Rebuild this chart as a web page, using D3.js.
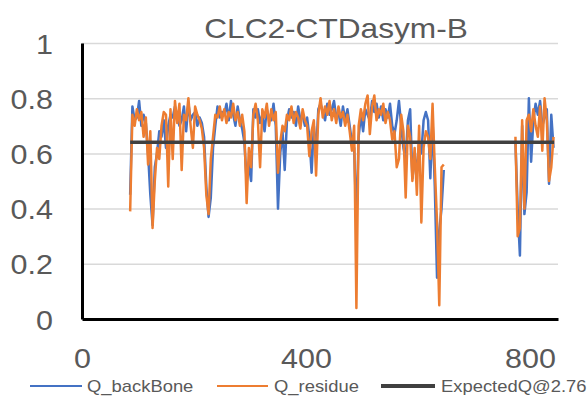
<!DOCTYPE html>
<html>
<head>
<meta charset="utf-8">
<script src="https://cdn.jsdelivr.net/npm/d3@7"></script>
<style>
  html, body { margin: 0; padding: 0; background: #fff; }
  svg { display: block; font-family: "Liberation Sans", Arial, sans-serif; }
</style>
</head>
<body>
<svg id="chart" width="588" height="397"></svg>
<script>
// ---------------- data ----------------
const title = "CLC2-CTDasym-B";
const xTicks = [0, 400, 800];
const yTicks = [0, 0.2, 0.4, 0.6, 0.8, 1];
const seriesNames = ["Q_backBone", "Q_residue", "ExpectedQ@2.76"];

// residue numbers (700 with null values marks the gap in the data)
const residues = [
  86, 90, 94, 98, 102, 106, 110, 114, 118, 122, 126, 130, 134, 138, 142, 146, 150, 154, 158, 162,
  166, 170, 174, 178, 182, 186, 190, 194, 198, 202, 206, 210, 214, 218, 222, 226, 230, 234, 238, 242,
  246, 250, 254, 258, 262, 266, 270, 274, 278, 282, 286, 290, 294, 298, 302, 306, 310, 314, 318, 322,
  326, 330, 334, 338, 342, 346, 350, 354, 358, 362, 366, 370, 374, 378, 382, 386, 390, 394, 398, 402,
  406, 410, 414, 418, 422, 426, 430, 434, 438, 442, 446, 450, 454, 458, 462, 466, 470, 474, 478, 482,
  486, 490, 494, 498, 502, 506, 510, 514, 518, 522, 526, 530, 534, 538, 542, 546, 550, 554, 558, 562,
  566, 570, 574, 578, 582, 586, 590, 594, 598, 602, 606, 610, 614, 618, 622, 626, 630, 634, 638, 642,
  646, 700,
  774, 778, 782, 786, 790, 794, 798, 802, 806, 810, 814, 818, 822, 826, 830, 834, 838, 842
];

const qBackbone = [
  0.45, 0.77, 0.72, 0.73, 0.79, 0.70, 0.74, 0.71, 0.60, 0.45, 0.34, 0.55, 0.60, 0.68, 0.66, 0.72, 0.62, 0.70, 0.74, 0.73,
  0.77, 0.74, 0.70, 0.72, 0.77, 0.68, 0.78, 0.72, 0.74, 0.75, 0.70, 0.73, 0.71, 0.66, 0.48, 0.37, 0.44, 0.62, 0.70, 0.77,
  0.73, 0.75, 0.74, 0.78, 0.72, 0.79, 0.74, 0.70, 0.77, 0.72, 0.69, 0.64, 0.50, 0.56, 0.50, 0.76, 0.73, 0.76, 0.71, 0.74,
  0.68, 0.76, 0.73, 0.72, 0.78, 0.70, 0.40, 0.60, 0.68, 0.54, 0.72, 0.76, 0.73, 0.75, 0.70, 0.77, 0.72, 0.74, 0.70, 0.73,
  0.66, 0.53, 0.70, 0.60, 0.76, 0.78, 0.75, 0.72, 0.78, 0.74, 0.76, 0.79, 0.73, 0.75, 0.70, 0.77, 0.72, 0.76, 0.70, 0.64,
  0.62, 0.34, 0.66, 0.74, 0.68, 0.76, 0.74, 0.72, 0.79, 0.75, 0.78, 0.73, 0.77, 0.72, 0.76, 0.73, 0.78, 0.70, 0.67, 0.72,
  0.79, 0.70, 0.62, 0.58, 0.72, 0.76, 0.51, 0.58, 0.55, 0.64, 0.60, 0.72, 0.75, 0.72, 0.51, 0.72, 0.48, 0.15, 0.32, 0.40,
  0.54, null,
  0.64, 0.40, 0.23, 0.70, 0.38, 0.46, 0.80, 0.57, 0.72, 0.78, 0.74, 0.79, 0.70, 0.73, 0.76, 0.49, 0.74, 0.62
];

const qResidue = [
  0.39, 0.74, 0.70, 0.76, 0.72, 0.75, 0.66, 0.73, 0.56, 0.68, 0.33, 0.50, 0.62, 0.58, 0.70, 0.75, 0.74, 0.48, 0.76, 0.58,
  0.79, 0.71, 0.78, 0.54, 0.74, 0.72, 0.80, 0.70, 0.62, 0.77, 0.74, 0.72, 0.69, 0.62, 0.45, 0.38, 0.58, 0.66, 0.74, 0.73,
  0.77, 0.72, 0.76, 0.71, 0.75, 0.73, 0.78, 0.72, 0.75, 0.70, 0.74, 0.68, 0.42, 0.62, 0.55, 0.74, 0.78, 0.72, 0.55, 0.76,
  0.73, 0.78, 0.70, 0.76, 0.72, 0.75, 0.53, 0.64, 0.70, 0.68, 0.74, 0.72, 0.77, 0.71, 0.75, 0.73, 0.69, 0.76, 0.72, 0.70,
  0.59, 0.68, 0.72, 0.52, 0.74, 0.80, 0.73, 0.77, 0.74, 0.79, 0.72, 0.76, 0.71, 0.77, 0.73, 0.75, 0.70, 0.74, 0.68, 0.61,
  0.70, 0.04, 0.70, 0.76, 0.72, 0.78, 0.81, 0.67, 0.77, 0.81, 0.72, 0.76, 0.74, 0.78, 0.71, 0.75, 0.72, 0.65, 0.68, 0.55,
  0.58, 0.74, 0.68, 0.44, 0.70, 0.66, 0.50, 0.62, 0.45, 0.70, 0.35, 0.62, 0.68, 0.66, 0.58, 0.78, 0.55, 0.35, 0.05, 0.55,
  0.56, null,
  0.66, 0.30, 0.33, 0.72, 0.40, 0.72, 0.74, 0.68, 0.76, 0.70, 0.66, 0.77, 0.61, 0.80, 0.72, 0.50, 0.55, 0.66
];

const expectedX = [86, 843];
const expectedQ = [0.64, 0.64];

(function () {
  // ---------------- layout ----------------
  const svg = d3.select("#chart");
  const mLeft = 82, mRight = 558, mTop = 43, mBottom = 319;
  const x = d3.scaleLinear().domain([0, 850]).range([mLeft, mRight]);
  const y = d3.scaleLinear().domain([0, 1]).range([mBottom, mTop]);
  const textColor = "#595959";
  const colors = ["#4472C4", "#ED7D31", "#404040"];
  const stretch = 1.13;

  // gridlines
  svg.append("g")
    .attr("transform", `translate(${mLeft},0)`)
    .call(d3.axisLeft(y).tickValues(yTicks.filter(d => d > 0)).tickSize(-(mRight - mLeft)).tickFormat(""))
    .call(g => g.select(".domain").remove())
    .call(g => g.selectAll("line").attr("stroke", "#D9D9D9").attr("stroke-width", 1.5));

  // series lines
  const lineGen = vals => d3.line()
    .defined((d, i) => vals[i] !== null)
    .x((d, i) => x(residues[i]))
    .y((d, i) => y(vals[i]));

  [qBackbone, qResidue].forEach((vals, k) => {
    svg.append("path")
      .datum(vals)
      .attr("d", lineGen(vals))
      .attr("fill", "none")
      .attr("stroke", colors[k])
      .attr("stroke-width", 2.5)
      .attr("stroke-linejoin", "round");
  });

  svg.append("path")
    .datum(expectedX)
    .attr("d", d3.line().x((d, i) => x(expectedX[i])).y((d, i) => y(expectedQ[i])))
    .attr("fill", "none")
    .attr("stroke", colors[2])
    .attr("stroke-width", 3.5);

  // y axis
  svg.append("g")
    .attr("transform", `translate(${mLeft},0)`)
    .call(d3.axisLeft(y).tickValues(yTicks).tickSize(0).tickSizeOuter(0).tickFormat(d => String(d)))
    .call(g => g.select(".domain").attr("stroke", "#000").attr("stroke-width", 3))
    .call(g => g.selectAll("text")
      .attr("x", 0).attr("dy", null).attr("y", 10)
      .attr("transform", `translate(-29,0) scale(${stretch},1)`)
      .attr("fill", textColor)
      .style("font-size", "27px")
      .style("font-family", "'Liberation Sans', Arial, sans-serif"));

  // x axis
  svg.append("g")
    .attr("transform", `translate(0,${mBottom})`)
    .call(d3.axisBottom(x).tickValues(xTicks).tickSize(0).tickSizeOuter(0).tickFormat(d => String(d)))
    .call(g => g.select(".domain").attr("stroke", "#000").attr("stroke-width", 3))
    .call(g => g.selectAll("text")
      .attr("y", 49).attr("dy", null)
      .attr("transform", `scale(${stretch},1)`)
      .attr("fill", textColor)
      .style("font-size", "27px")
      .style("font-family", "'Liberation Sans', Arial, sans-serif"));

  // title
  svg.append("text")
    .attr("transform", `translate(336,38) scale(${stretch},1)`)
    .attr("text-anchor", "middle")
    .attr("fill", textColor)
    .style("font-size", "28px")
    .text(title);

  // legend
  const legendItems = [
    { x1: 30, x2: 82, tx: 87, w: 2 },
    { x1: 217, x2: 268, tx: 274, w: 2 },
    { x1: 381, x2: 435, tx: 441, w: 4 }
  ];
  const lg = svg.append("g");
  legendItems.forEach((it, i) => {
    lg.append("line")
      .attr("x1", it.x1).attr("x2", it.x2).attr("y1", 386).attr("y2", 386)
      .attr("stroke", colors[i]).attr("stroke-width", it.w);
    lg.append("text")
      .attr("transform", `translate(${it.tx},391.5) scale(1.15,1)`)
      .attr("fill", textColor)
      .style("font-size", "16px")
      .text(seriesNames[i]);
  });
})();
</script>
</body>
</html>
